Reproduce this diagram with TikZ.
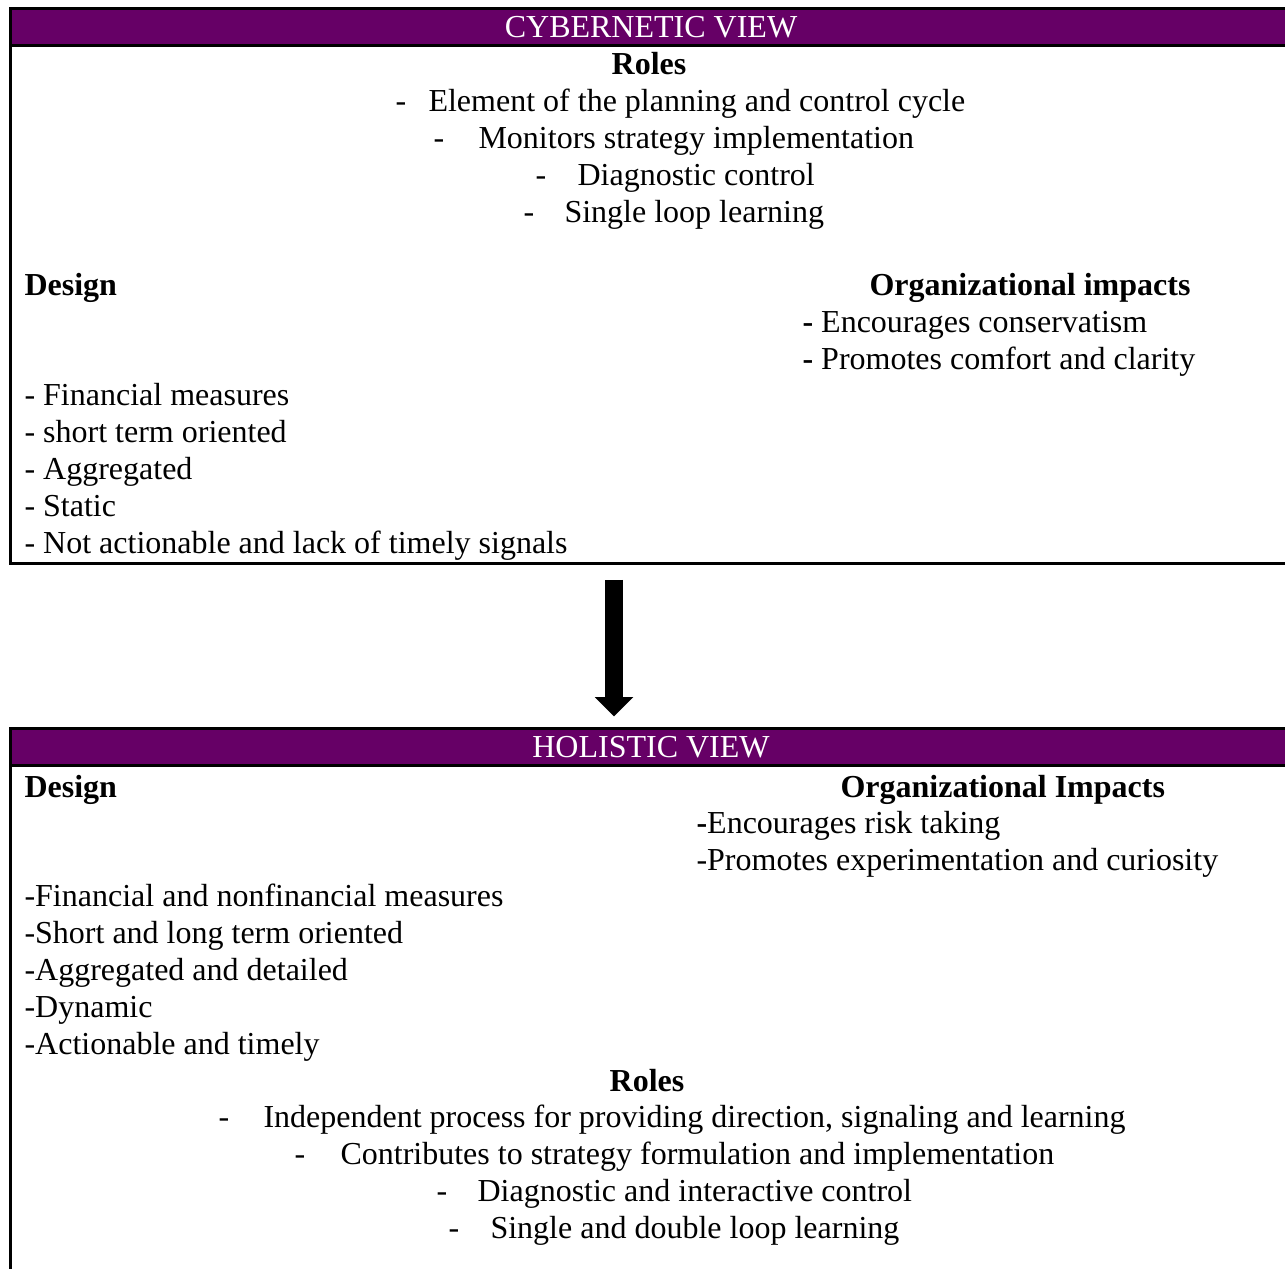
\documentclass[tikz,border=0pt]{standalone}
\usepackage{fontspec}
\setmainfont{Liberation Serif}
\usetikzlibrary{arrows.meta}
\definecolor{viewpurple}{HTML}{660066}

\begin{document}
\begin{tikzpicture}[x=0.375pt,y=-0.375pt,
        every node/.style={inner sep=0pt,font=\fontsize{12}{13.8}\selectfont},
        item/.style={anchor=base west},
        title/.style={anchor=base west,font=\fontsize{12}{13.8}\selectfont\bfseries},
        viewframe/.style={draw,line width=1.1pt,anchor=north west,minimum width=480.4pt},
        viewhead/.style={viewframe,fill=viewpurple,text=white,minimum height=14pt},
        blockarrow/.style={line width=6.75pt,-{Triangle[width=14pt,length=7.2pt]},
            shorten <=5.6pt,shorten >=4pt}]
    \useasboundingbox (0,0) rectangle (1285,1268);

    % cybernetic view
    \node[viewframe,minimum height=208.1pt] (cyberbox) at (9,7) {};
    \node[viewhead] (cyberhead) at (9,7) {CYBERNETIC VIEW};
    \node[title,anchor=base] (cyberroles) at (649,75) {Roles};
    \foreach \dashx/\textx/\txt [count=\i] in {
        395/428/{Element of the planning and control cycle},
        433/478/{Monitors strategy implementation},
        535/577/{Diagnostic control},
        523/564/{Single loop learning}}
    {
        \node[item] (cyberdash\i) at (\dashx,{75+\i*36.8}) {-};
        \node[item] (cyberrole\i) at (\textx,{75+\i*36.8}) {\txt};
    }
    \node[title] (cyberdesign) at (24,296) {Design};
    \node[title] (cyberimpacts) at (869,296) {Organizational impacts};
    \foreach \txt [count=\i] in {Encourages conservatism, Promotes comfort and clarity}
        \node[item] (cyberimpact\i) at (802,{296+\i*36.8}) {\textbf{-} \txt};
    \foreach \txt [count=\i] in {Financial measures, short term oriented, Aggregated,
        Static, Not actionable and lack of timely signals}
        \node[item] (cyberitem\i) at (24,{369+\i*36.8}) {- \txt};

    % holistic view
    \node[viewframe,minimum height=215pt] (holibox) at (9,727) {};
    \node[viewhead] (holihead) at (9,727) {HOLISTIC VIEW};
    \node[title] (holidesign) at (24,797) {Design};
    \node[title] (holiimpacts) at (840,797) {Organizational Impacts};
    \node[item] (holiimpact1) at (696,833) {\textbf{-}Encourages risk taking};
    \node[item] (holiimpact2) at (696,870) {-Promotes experimentation and curiosity};
    \foreach \txt [count=\i] in {Financial and nonfinancial measures, Short and long term oriented,
        Aggregated and detailed, Dynamic, Actionable and timely}
        \node[item] (holiitem\i) at (24,{870+\i*36.8}) {-\txt};
    \node[title,anchor=base] (holiroles) at (647,1091) {Roles};
    \foreach \dashx/\textx/\txt [count=\i] in {
        218/263/{Independent process for providing direction, signaling and learning},
        294/340/{Contributes to strategy formulation and implementation},
        436/477/{Diagnostic and interactive control},
        448/490/{Single and double loop learning}}
    {
        \node[item] (holidash\i) at (\dashx,{1091+\i*36.8}) {-};
        \node[item] (holirole\i) at (\textx,{1091+\i*36.8}) {\txt};
    }

    % transition between the two views
    \coordinate (arrowx) at (614,0);
    \draw[blockarrow] (cyberbox.south -| arrowx) -- (holihead.north -| arrowx);
\end{tikzpicture}
\end{document}
